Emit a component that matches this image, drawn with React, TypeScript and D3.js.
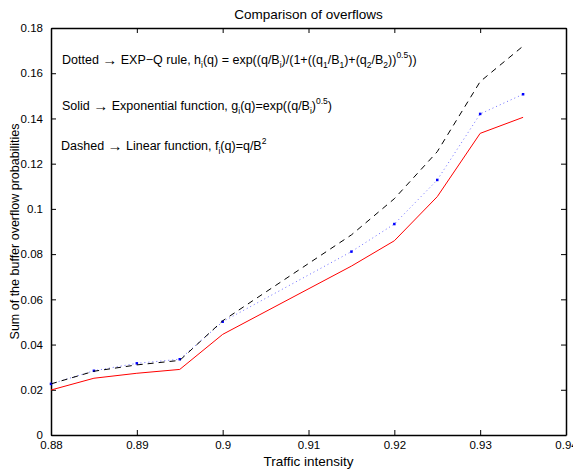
import { useEffect, useRef } from 'react';
import * as d3 from 'd3';

// traffic intensity values
const intensity = [0.88, 0.885, 0.89, 0.895, 0.9, 0.915, 0.92, 0.925, 0.93, 0.935];

// sum of buffer overflow probabilities
const expQ = [0.0226, 0.0284, 0.0317, 0.0335, 0.0501, 0.0811, 0.0933, 0.1128, 0.142, 0.1507];
const exponential = [0.0199, 0.0251, 0.0273, 0.029, 0.0445, 0.0747, 0.0859, 0.1054, 0.1334, 0.1405];
const linear = [0.0226, 0.0282, 0.031, 0.033, 0.0505, 0.0885, 0.1045, 0.1253, 0.1563, 0.172];

const xTicks = [0.88, 0.89, 0.9, 0.91, 0.92, 0.93, 0.94];
const yTicks = [0, 0.02, 0.04, 0.06, 0.08, 0.1, 0.12, 0.14, 0.16, 0.18];

export default function App() {
  const svgRef = useRef<SVGSVGElement>(null);

  useEffect(() => {
    const W = 573, H = 472;
    const margin = { top: 28, right: 7, bottom: 37, left: 51 };
    const w = W - margin.left - margin.right;
    const h = H - margin.top - margin.bottom;
    const font = 'Liberation Sans, Arial, sans-serif';

    const root = d3.select(svgRef.current);
    root.selectAll('*').remove();
    root.attr('width', W).attr('height', H);

    const svg = root.append('g').attr('transform', `translate(${margin.left},${margin.top})`);

    const x = d3.scaleLinear().domain([0.88, 0.94]).range([0, w]);
    const y = d3.scaleLinear().domain([0, 0.18]).range([h, 0]);

    const fmt = (d: number) => String(+d.toFixed(3));

    // axes with inward ticks (all four sides)
    const axB = svg.append('g').attr('transform', `translate(0,${h})`)
      .call(d3.axisBottom(x).tickValues(xTicks).tickSizeInner(-5).tickSizeOuter(0).tickPadding(8).tickFormat(fmt as any));
    const axT = svg.append('g')
      .call(d3.axisTop(x).tickValues(xTicks).tickSizeInner(-5).tickSizeOuter(0).tickFormat(() => ''));
    const axL = svg.append('g')
      .call(d3.axisLeft(y).tickValues(yTicks).tickSizeInner(-5).tickSizeOuter(0).tickPadding(8).tickFormat(fmt as any));
    const axR = svg.append('g').attr('transform', `translate(${w},0)`)
      .call(d3.axisRight(y).tickValues(yTicks).tickSizeInner(-5).tickSizeOuter(0).tickFormat(() => ''));

    [axB, axT, axL, axR].forEach(a => {
      a.select('.domain').attr('stroke', '#000').attr('stroke-width', 1.5);
      a.selectAll('line').attr('stroke', '#000');
      a.selectAll('text').attr('fill', '#000').style('font-family', font).style('font-size', '11.5px');
    });
    axB.selectAll('text').attr('dy', '0.5em');

    const pts = (vals: number[]) => intensity.map((v, i) => [x(v), y(vals[i])] as [number, number]);
    const line = d3.line();

    svg.append('path')
      .attr('d', line(pts(exponential)))
      .attr('fill', 'none').attr('stroke', '#ff0000').attr('stroke-width', 1);

    svg.append('path')
      .attr('d', line(pts(expQ)))
      .attr('fill', 'none').attr('stroke', '#6d6dff').attr('stroke-width', 1)
      .attr('stroke-dasharray', '1,3');

    svg.selectAll('.mk')
      .data(pts(expQ))
      .enter().append('rect')
      .attr('x', d => d[0] - 1.25).attr('y', d => d[1] - 1.25)
      .attr('width', 2.5).attr('height', 2.5).attr('fill', '#0000ff');

    svg.append('path')
      .attr('d', line(pts(linear)))
      .attr('fill', 'none').attr('stroke', '#000').attr('stroke-width', 1)
      .attr('stroke-dasharray', '6,5');

    // annotations
    const note = (tx: number, ty: number) =>
      svg.append('text').attr('x', tx).attr('y', ty)
        .style('font-family', font).style('font-size', '12.5px').attr('fill', '#000');

    const sub = (t: any, s: string) => t.append('tspan').attr('baseline-shift', '-4').style('font-size', '8.5px').text(s);
    const sup = (t: any, s: string) => t.append('tspan').attr('baseline-shift', '6').style('font-size', '8.5px').text(s);
    const plain = (t: any, s: string) => t.append('tspan').text(s);
    const arrow = (t: any) => t.append('tspan').style('font-size', '15px').attr('dy', 1).text('\u2192').append('tspan');

    const t1 = note(11, 36);
    plain(t1, 'Dotted '); arrow(t1);
    t1.append('tspan').attr('dy', -1).text(' EXP\u2212Q rule, h'); sub(t1, 'i'); plain(t1, '(q) = exp((q/B'); sub(t1, 'i');
    plain(t1, ')/(1+((q'); sub(t1, '1'); plain(t1, '/B'); sub(t1, '1'); plain(t1, ')+(q'); sub(t1, '2');
    plain(t1, '/B'); sub(t1, '2'); plain(t1, '))'); sup(t1, '0.5'); plain(t1, '))');

    const t2 = note(11, 82);
    plain(t2, 'Solid '); arrow(t2);
    t2.append('tspan').attr('dy', -1).text(' Exponential function,  g'); sub(t2, 'i'); plain(t2, '(q)=exp((q/B'); sub(t2, 'i');
    plain(t2, ')'); sup(t2, '0.5'); plain(t2, ')');

    const t3 = note(10, 122);
    plain(t3, 'Dashed '); arrow(t3);
    t3.append('tspan').attr('dy', -1).text(' Linear function, f'); sub(t3, 'i'); plain(t3, '(q)=q/B'); sup(t3, '2');

    // titles
    root.append('text').attr('x', margin.left + w / 2).attr('y', 19).attr('text-anchor', 'middle')
      .style('font-family', font).style('font-size', '13.5px').text('Comparison of overflows');
    root.append('text').attr('x', margin.left + w / 2).attr('y', 466).attr('text-anchor', 'middle')
      .style('font-family', font).style('font-size', '13.5px').text('Traffic intensity');
    root.append('text').attr('transform', `translate(19,${margin.top + h / 2}) rotate(-90)`)
      .attr('text-anchor', 'middle')
      .style('font-family', font).style('font-size', '12.5px').text('Sum of the buffer overflow probabilities');
  }, []);

  return (
    <svg ref={svgRef} style={{ position: 'absolute', left: 0, top: 0, background: '#fff' }}></svg>
  );
}
